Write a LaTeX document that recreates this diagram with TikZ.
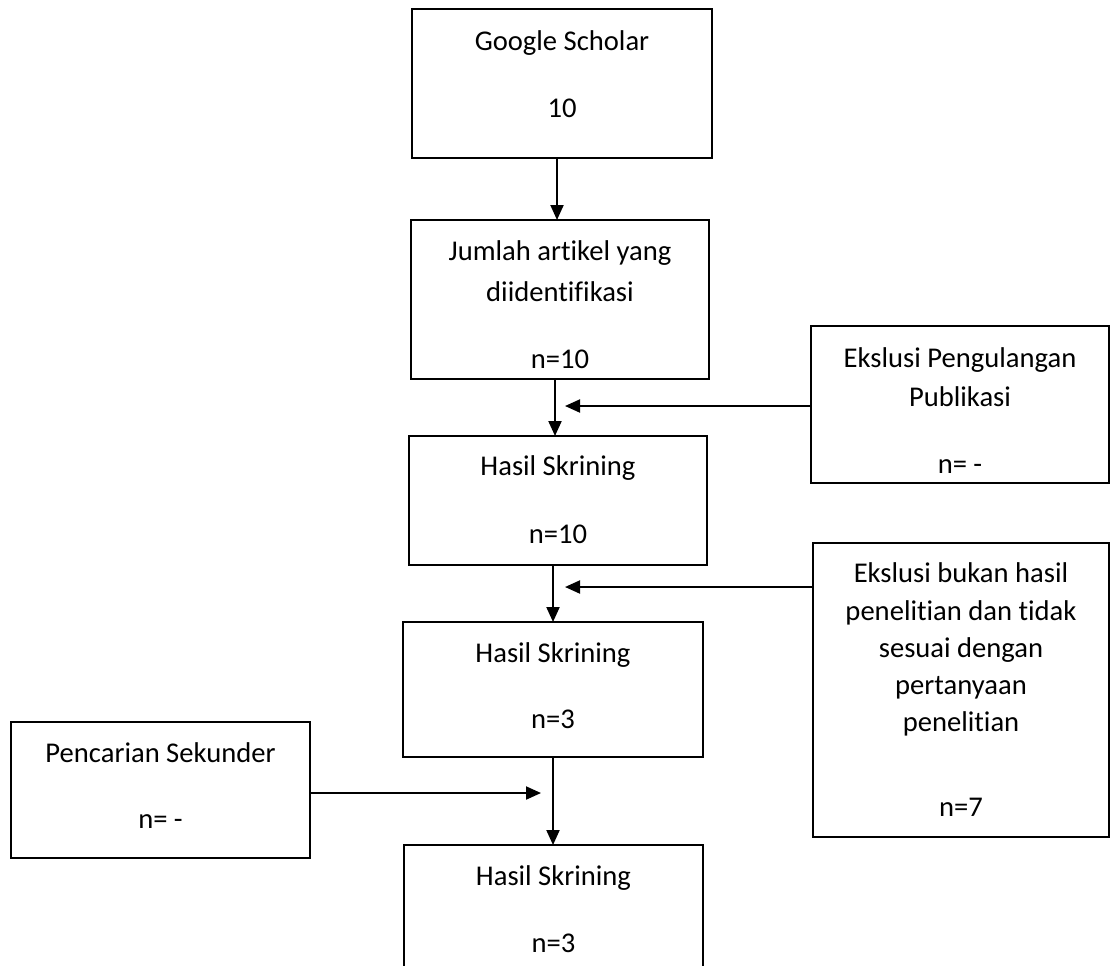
\documentclass[tikz,border=0pt]{standalone}
\usepackage{fontspec}
\setmainfont{Carlito}[Ligatures=NoCommon]
\usetikzlibrary{arrows.meta}
\begin{document}
\begin{tikzpicture}[x=0.5pt,y=-0.5pt,
  box/.style={draw,line width=0.7pt,inner sep=0pt,outer sep=0pt},
  txt/.style={anchor=base,inner sep=0pt,font=\fontsize{14.3}{17}\selectfont},
  arr/.style={line width=1pt,-{Triangle[width=6.5pt,length=7.5pt]}}]
  \useasboundingbox (0,0) rectangle (1111,965);
  % boxes
  \node[box,minimum width=150pt,minimum height=74.5pt] (gs) at (562,83.5) {};
  \node[box,minimum width=149pt,minimum height=79.5pt] (jumlah) at (560,299.5) {};
  \node[box,minimum width=149pt,minimum height=78.5pt] (eks1) at (960,404.5) {};
  \node[box,minimum width=149pt,minimum height=64.5pt] (hasil1) at (558,500.5) {};
  \node[box,minimum width=148pt,minimum height=147pt] (eks2) at (961,690) {};
  \node[box,minimum width=150pt,minimum height=67.5pt] (hasil2) at (553,689.5) {};
  \node[box,minimum width=149.5pt,minimum height=68pt] (sekunder) at (160.5,790) {};
  \node[box,minimum width=149.5pt,minimum height=67.5pt] (hasil3) at (553.5,912.5) {};
  % texts
  \node[txt] (gs-t) at (562,50) {Google Scholar};
  \node[txt] (gs-n) at (562,117) {10};
  \node[txt] (jumlah-t1) at (560,260) {Jumlah artikel yang};
  \node[txt] (jumlah-t2) at (560,301) {diidentifikasi};
  \node[txt] (jumlah-n) at (560,368) {n=10};
  \node[txt] (eks1-t1) at (960,367) {Ekslusi Pengulangan};
  \node[txt] (eks1-t2) at (960,406) {Publikasi};
  \node[txt] (eks1-n) at (960,473) {n= -};
  \node[txt] (hasil1-t) at (558,475) {Hasil Skrining};
  \node[txt] (hasil1-n) at (558,543) {n=10};
  \node[txt] (eks2-t1) at (961,582) {Ekslusi bukan hasil};
  \node[txt] (eks2-t2) at (961,620) {penelitian dan tidak};
  \node[txt] (eks2-t3) at (961,657) {sesuai dengan};
  \node[txt] (eks2-t4) at (961,694) {pertanyaan};
  \node[txt] (eks2-t5) at (961,731) {penelitian};
  \node[txt] (eks2-n) at (961,816) {n=7};
  \node[txt] (hasil2-t) at (553,662) {Hasil Skrining};
  \node[txt] (hasil2-n) at (553,728) {n=3};
  \node[txt] (sekunder-t) at (160.5,762) {Pencarian Sekunder};
  \node[txt] (sekunder-n) at (160.5,828) {n= -};
  \node[txt] (hasil3-t) at (553.5,885) {Hasil Skrining};
  \node[txt] (hasil3-n) at (553.5,952) {n=3};
  % arrow lines
  \coordinate (spine1) at (557,0);
  \coordinate (spine2) at (555,0);
  \coordinate (spine3) at (553,0);
  \coordinate (tip1) at (565,406);
  \coordinate (tip2) at (565,587);
  \coordinate (tip3) at (541,793);
  \draw[arr] (gs.south -| spine1) -- (jumlah.north -| spine1);
  \draw[arr] (jumlah.south -| spine2) -- (hasil1.north -| spine2);
  \draw[arr] (hasil1.south -| spine3) -- (hasil2.north -| spine3);
  \draw[arr] (hasil2.south -| spine3) -- (hasil3.north -| spine3);
  \draw[arr] (eks1.west |- tip1) -- (tip1);
  \draw[arr] (eks2.west |- tip2) -- (tip2);
  \draw[arr] (sekunder.east |- tip3) -- (tip3);
\end{tikzpicture}
\end{document}
